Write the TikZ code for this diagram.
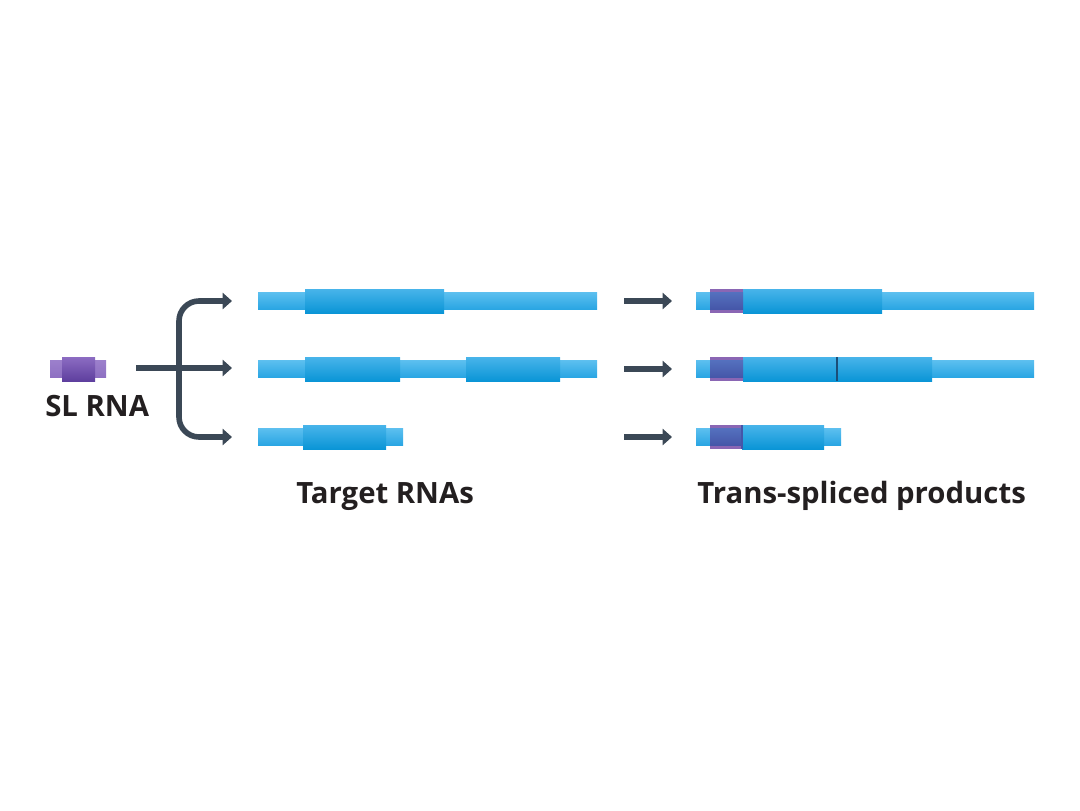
\documentclass[tikz,border=0pt]{standalone}
\usepackage{fontspec}
\setmainfont{Open Sans}
\usetikzlibrary{arrows.meta}
\definecolor{arrowc}{HTML}{3B4856}
\definecolor{thinT}{HTML}{5CBFEF}
\definecolor{thinM}{HTML}{B2E3FA}
\definecolor{thinB}{HTML}{28A5E3}
\definecolor{thickT}{HTML}{48B4EA}
\definecolor{thickM}{HTML}{1AA3E2}
\definecolor{thickB}{HTML}{0A95D6}
\definecolor{purT}{HTML}{8C6CC2}
\definecolor{purM}{HTML}{7150B0}
\definecolor{purB}{HTML}{5E3F9E}
\definecolor{lpurT}{HTML}{9C80CC}
\definecolor{lpurM}{HTML}{C4AEE4}
\definecolor{lpurB}{HTML}{8E70C2}
\definecolor{mixT}{HTML}{5470BE}
\definecolor{mixB}{HTML}{4556A8}
\definecolor{mixedge}{HTML}{8A66B4}
\definecolor{joinc}{HTML}{1B4E78}
\definecolor{textc}{HTML}{231F20}
\tikzset{
  thintube/.style={top color=thinT, middle color=thinM, bottom color=thinB},
  thicktube/.style={top color=thickT, middle color=thickM, bottom color=thickB},
  purthick/.style={top color=purT, middle color=purM, bottom color=purB},
  purthin/.style={top color=lpurT, middle color=lpurM, bottom color=lpurB},
  mixband/.style={top color=mixT, bottom color=mixB},
  arr/.style={draw=arrowc, line width=4.2pt, -{Triangle[length=7pt,width=12pt]}},
  lbl/.style={font=\fontsize{22}{26}\selectfont\bfseries, text=textc, inner sep=0pt, anchor=base west}
}
\newcommand{\thinseg}[3]{\path[thintube] (#1,#3-8.5) rectangle (#2,#3+8.5);}
\newcommand{\thickseg}[3]{\path[thicktube] (#1,#3-12) rectangle (#2,#3+12);}
\newcommand{\slcap}[3]{\fill[mixedge] (#1,#3-12) rectangle (#2,#3+12);
  \path[mixband] (#1,#3-8.5) rectangle (#2,#3+8.5);}
\begin{document}
\begin{tikzpicture}[x=0.75pt,y=-0.75pt]
\useasboundingbox (0,0) rectangle (1080,810);

% SL RNA
\path[purthin] (50,360) rectangle (106,377);
\path[purthick] (62,357) rectangle (95,381);
\node[lbl] (sl) at (45,416) {SL RNA};

% branching arrows
\coordinate (slout) at (136,368);
\coordinate (b1) at (232,301);
\coordinate (b2) at (232,368);
\coordinate (b3) at (232,437);
\draw[arr] (slout) -- (b2);
\draw[draw=arrowc, line width=4.2pt, rounded corners=15pt,
  {Triangle[length=7pt,width=12pt]}-{Triangle[length=7pt,width=12pt]}]
  (b1) -- (179,301) -- (179,437) -- (b3);

% Target RNAs
\thinseg{258}{597}{301}
\thickseg{305}{444}{301}
\thinseg{258}{597}{369}
\thickseg{305}{400}{369}
\thickseg{466}{560}{369}
\thinseg{258}{403}{437}
\thickseg{303}{386}{437}
\node[lbl] (target) at (296,503) {Target RNAs};

% middle arrows
\coordinate (m1s) at (624,301); \coordinate (m1e) at (672,301);
\coordinate (m2s) at (624,369); \coordinate (m2e) at (672,369);
\coordinate (m3s) at (624,437); \coordinate (m3e) at (672,437);
\draw[arr] (m1s) -- (m1e);
\draw[arr] (m2s) -- (m2e);
\draw[arr] (m3s) -- (m3e);

% Trans-spliced products
\thinseg{696}{1034}{301}
\thickseg{743}{882}{301}
\slcap{710}{743}{301}
\thinseg{696}{1034}{369}
\thickseg{743}{932}{369}
\slcap{710}{743}{369}
\draw[joinc, line width=1.6pt] (837,357) -- (837,381);
\thinseg{696}{841}{437}
\thickseg{742}{824}{437}
\slcap{710}{742}{437}
\draw[mixB, line width=1pt] (742,425) -- (742,449);
\node[lbl] (products) at (697,503) {Trans-spliced products};
\end{tikzpicture}
\end{document}
